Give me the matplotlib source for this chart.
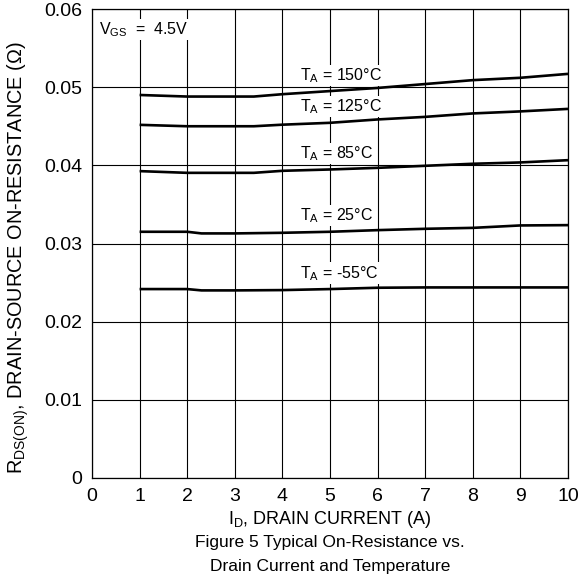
import matplotlib
matplotlib.use('Agg')
import matplotlib.pyplot as plt

plt.rcParams['font.family'] = ['Liberation Sans', 'DejaVu Sans']
plt.rcParams['mathtext.fontset'] = 'custom'
plt.rcParams['mathtext.rm'] = 'Liberation Sans'
plt.rcParams['mathtext.it'] = 'Liberation Sans:italic'

# on-resistance curves, R_DS(on) in ohms vs drain current in A
id_150 = [1, 2, 3, 3.4, 4, 5, 6, 7, 8, 9, 10]
r_150 = [0.0490, 0.0488, 0.0488, 0.0488, 0.0491, 0.0495, 0.0499, 0.0504, 0.0509, 0.0512, 0.0517]
id_125 = [1, 2, 3, 3.4, 4, 5, 6, 7, 8, 9, 10]
r_125 = [0.04518, 0.0450, 0.0450, 0.0450, 0.0452, 0.04544, 0.04587, 0.0462, 0.04664, 0.0469, 0.04722]
id_85 = [1, 2, 3, 3.4, 4, 5, 6, 7, 8, 9, 10]
r_85 = [0.03926, 0.03904, 0.03904, 0.03904, 0.0393, 0.03947, 0.03968, 0.03994, 0.0402, 0.04037, 0.04066]
id_25 = [1, 2, 2.3, 3, 4, 5, 6, 7, 8, 9, 10]
r_25 = [0.0315, 0.0315, 0.03129, 0.03129, 0.03137, 0.0315, 0.03171, 0.03188, 0.0320, 0.03231, 0.03235]
id_m55 = [1, 2, 2.3, 3, 4, 5, 6, 7, 8, 9, 10]
r_m55 = [0.02417, 0.02417, 0.0240, 0.0240, 0.02404, 0.02417, 0.02434, 0.02438, 0.02438, 0.02438, 0.02438]

curves = [(id_150, r_150, '150'), (id_125, r_125, '125'), (id_85, r_85, '85'),
          (id_25, r_25, '25'), (id_m55, r_m55, '-55')]
# label anchor (I_D, R) for each temperature tag
label_pos = {'150': (4.38, 0.0515), '125': (4.38, 0.0475), '85': (4.38, 0.0415),
             '25': (4.38, 0.0336), '-55': (4.38, 0.0262)}

x_ticks = list(range(0, 11))
y_ticks = [0, 0.01, 0.02, 0.03, 0.04, 0.05, 0.06]
y_ticklabels = ['0', '0.01', '0.02', '0.03', '0.04', '0.05', '0.06']

fig = plt.figure(figsize=(5.82, 5.79), dpi=100)
ax = fig.add_axes([92/582, 101/579, 476/582, 469/579])

ax.set_xlim(0, 10)
ax.set_ylim(0, 0.06)
ax.set_xticks(x_ticks)
ax.set_yticks(y_ticks)
ax.set_yticklabels(y_ticklabels)
ax.tick_params(length=0, labelsize=14, pad=7)
ax.grid(True, color='black', linewidth=0.8, zorder=0)
for s in ax.spines.values():
    s.set_linewidth(0.9)

for x, y, t in curves:
    ax.plot(x, y, color='black', linewidth=1.9, zorder=3, solid_capstyle='butt')
    lx, ly = label_pos[t]
    ax.text(lx, ly, r'T$_{\mathrm{A}}$ = ' + t + '\u00b0C', fontsize=11.5,
            ha='left', va='center', zorder=2,
            bbox=dict(facecolor='white', edgecolor='none', pad=1))

ax.text(0.15, 0.0574, r'V$_{\mathrm{GS}}$  =  4.5V', fontsize=11.5, ha='left', va='center',
        zorder=2, bbox=dict(facecolor='white', edgecolor='none', pad=1))

ax.set_xlabel(r'I$_{\mathrm{D}}$, DRAIN CURRENT (A)', fontsize=13, labelpad=3)
ax.set_ylabel(r'R$_{\mathrm{DS(ON)}}$, DRAIN-SOURCE ON-RESISTANCE ($\Omega$)', fontsize=14.3)
ax.yaxis.set_label_coords(-0.128, 0.47)

fig.text(330/582, 1 - 543/579, 'Figure 5 Typical On-Resistance vs.', fontsize=12.5,
         ha='center', va='center')
fig.text(330/582, 1 - 566/579, 'Drain Current and Temperature', fontsize=12.5,
         ha='center', va='center')

fig.savefig('out.png', dpi=100)
